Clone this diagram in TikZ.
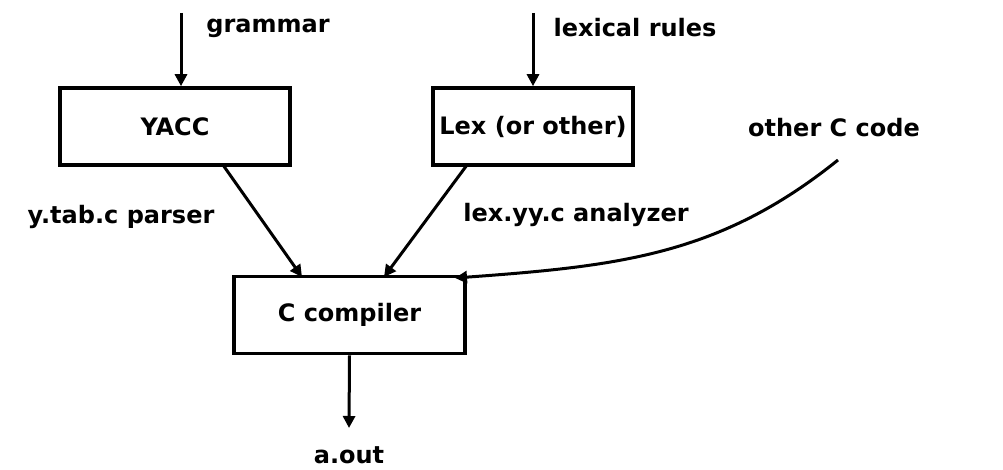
\documentclass[tikz,border=0pt]{standalone}
\usepackage{fontspec}
\setmainfont{DejaVu Sans}
\usetikzlibrary{arrows.meta}
\begin{document}
\begin{tikzpicture}[x=1pt,y=-1pt,
  box/.style={draw,line width=3.6pt,minimum width=#1,minimum height=77pt,inner sep=0pt,font=\fontsize{24}{28}\selectfont\bfseries},
  lbl/.style={inner sep=0pt,font=\fontsize{24}{28}\selectfont\bfseries},
  arr/.style={line width=3pt,-{Triangle[length=12pt,width=12pt]}}]
\useasboundingbox (0,0) rectangle (1003,470);
\node[box=230pt] (yacc) at (175,126.5) {YACC};
\node[box=200pt] (lex) at (533,126.5) {Lex (or other)};
\node[box=231pt] (cc) at (349.5,315) {C compiler};
\node[lbl] (gram) at (268,28) {grammar};
\node[lbl] (lexr) at (635,28) {lexical rules};
\node[lbl] (oth) at (834,128) {other C code};
\node[lbl] (ytab) at (121,217) {y.tab.c parser};
\node[lbl] (lexyy) at (576,215) {lex.yy.c analyzer};
\node[lbl] (aout) at (349,455) {a.out};
\coordinate (g0) at (181,13);
\coordinate (l0) at (533,13);
\coordinate (o0) at (838,160);
\coordinate (y1) at (223,165);
\coordinate (x1) at (467,165);
\draw[arr] (g0) -- (g0 |- yacc.north);
\draw[arr] (l0) -- (l0 |- lex.north);
\draw[arr] (y1) -- (302,277);
\draw[arr] (x1) -- (384,277);
\draw[arr] (o0) .. controls (720,255) and (620,266) .. (455,278);
\coordinate (a1) at (349,428);
\draw[arr] (cc.south) -- (a1);
\end{tikzpicture}
\end{document}
